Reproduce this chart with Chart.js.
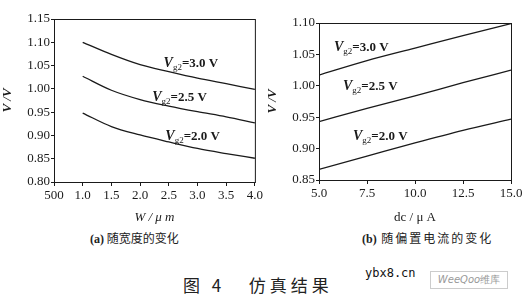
<!DOCTYPE html>
<html>
<head>
<meta charset="utf-8">
<script src="https://cdn.jsdelivr.net/npm/chart.js@4"></script>
<style>
  body { margin: 0; background: #fff; width: 525px; height: 305px; position: relative; overflow: hidden; }
  .box { position: absolute; top: 0; height: 225px; }
  #boxA { left: 0; width: 265px; }
  #boxB { left: 265px; width: 260px; }
  .cap { position: absolute; font-family: "Noto Sans CJK SC", sans-serif; color: #222; white-space: nowrap; }
  .cap b { font-family: "Liberation Serif", serif; }
  #capA { left: 90px; top: 229px; font-size: 12px; }
  #capB { left: 362px; top: 229px; font-size: 12px; letter-spacing: 2px; }
  #capB b { letter-spacing: 0; }
  #fig { left: 183px; top: 272px; font-size: 17px; letter-spacing: 4px; }
  #wm { left: 365px; top: 266px; font-family: "DejaVu Sans Mono", monospace; font-size: 12px; color: #111; }
  #wq { left: 430px; top: 271px; width: 76px; height: 16px; border: 1px solid #ccc; font-family: "DejaVu Sans", sans-serif; font-style: italic; font-size: 10px; color: #999; line-height: 16px; text-align: center; }
</style>
</head>
<body>
<div class="box" id="boxA"><canvas id="chartA"></canvas></div>
<div class="box" id="boxB"><canvas id="chartB"></canvas></div>
<div class="cap" id="capA"><b>(a)</b> 随宽度的变化</div>
<div class="cap" id="capB"><b>(b)</b> 随偏置电流的变化</div>
<div class="cap" id="fig">图 4&nbsp;&nbsp; 仿真结果</div>
<div class="cap" id="wm">ybx8.cn</div>
<div class="cap" id="wq">WeeQoo<span style="font-style:normal">维库</span></div>
<script>
// --- data ---
const widthUm = [1.0, 1.5, 2.0, 2.5, 3.0, 3.5, 4.0];
const vg30ByWidth = [1.100, 1.074, 1.052, 1.037, 1.023, 1.011, 0.999];
const vg25ByWidth = [1.027, 0.997, 0.977, 0.963, 0.951, 0.940, 0.927];
const vg20ByWidth = [0.948, 0.919, 0.901, 0.886, 0.872, 0.861, 0.851];

const biasUa = [5.0, 7.5, 10.0, 12.5, 15.0];
const vg30ByBias = [1.017, 1.040, 1.060, 1.080, 1.099];
const vg25ByBias = [0.943, 0.964, 0.984, 1.005, 1.025];
const vg20ByBias = [0.867, 0.888, 0.909, 0.929, 0.947];

const widthTickLabels = ['500', '1.0', '1.5', '2.0', '2.5', '3.0', '3.5', '4.0'];
const biasTickLabels = ['5.0', '7.5', '10.0', '12.5', '15.0'];
const seriesNames = ['3.0', '2.5', '2.0'];

const ink = '#1a1a1a';
const serif = '"Liberation Serif", "Times New Roman", serif';

// frame around the plot area (closed box)
const framePlugin = {
    id: 'frame',
    afterDraw: (chart) => {
        const a = chart.chartArea;
        const ctx = chart.ctx;
        ctx.save();
        ctx.strokeStyle = ink;
        ctx.lineWidth = 1;
        ctx.strokeRect(a.left + 0.5, a.top + 0.5, a.right - a.left, a.bottom - a.top);
        ctx.restore();
    }
};

// "V_g2=x.x V" curve labels, anchored in data units
const curveLabelPlugin = {
    id: 'curveLabels',
    afterDatasetsDraw: (chart, args, opts) => {
        const ctx = chart.ctx;
        const xs = chart.scales.x, ys = chart.scales.y;
        ctx.save();
        ctx.fillStyle = ink;
        ctx.textBaseline = 'alphabetic';
        opts.spots.forEach((s, i) => {
            let x = xs.getPixelForValue(s[0]);
            const y = ys.getPixelForValue(s[1]);
            ctx.font = 'italic bold 14px ' + serif;
            ctx.fillText('V', x, y);
            x += ctx.measureText('V').width;
            ctx.font = '9px ' + serif;
            ctx.fillText('g2', x, y + 3);
            x += ctx.measureText('g2').width;
            ctx.font = 'bold 13px ' + serif;
            ctx.fillText('=' + seriesNames[i] + ' V', x, y);
        });
        ctx.restore();
    }
};

function makeLine(xVals, yVals) {
    return {
        data: xVals.map((x, i) => ({ x: x, y: yVals[i] })),
        borderColor: ink,
        borderWidth: 1.3,
        pointRadius: 0,
        tension: 0.4,
        cubicInterpolationMode: 'monotone',
        fill: false
    };
}

function makeOptions(cfg) {
    return {
        responsive: true,
        maintainAspectRatio: false,
        animation: false,
        layout: { padding: cfg.padding },
        plugins: {
            legend: { display: false },
            tooltip: { enabled: false },
            curveLabels: { spots: cfg.spots }
        },
        scales: {
            x: {
                type: 'linear',
                min: cfg.xMin, max: cfg.xMax,
                afterFit: (scale) => { scale.height = cfg.xAxisHeight; },
                ticks: {
                    stepSize: cfg.xStep,
                    color: ink,
                    font: { family: serif, size: 13 },
                    padding: 2,
                    maxRotation: 0,
                    autoSkip: false,
                    callback: (v, i) => cfg.xLabels[i]
                },
                grid: { drawOnChartArea: false, drawTicks: true, tickLength: 4, color: ink },
                border: { color: ink },
                title: {
                    display: true, text: cfg.xTitle, color: ink,
                    font: { family: serif, size: 13, style: cfg.xTitleStyle },
                    padding: { top: 4, bottom: 0 }
                }
            },
            y: {
                min: cfg.yMin, max: cfg.yMax,
                afterFit: (scale) => { scale.width = cfg.yAxisWidth; },
                ticks: {
                    stepSize: 0.05,
                    color: ink,
                    font: { family: serif, size: 13 },
                    padding: 1,
                    callback: (v) => v.toFixed(2)
                },
                grid: { drawOnChartArea: false, drawTicks: true, tickLength: 3, color: ink },
                border: { color: ink },
                title: {
                    display: true, text: 'V /V', color: ink,
                    font: { family: serif, size: 13, style: 'italic', weight: 'bold' },
                    padding: { top: 0, bottom: 0 }
                }
            }
        }
    };
}

new Chart(document.getElementById('chartA'), {
    type: 'line',
    data: { datasets: [
        makeLine(widthUm, vg30ByWidth),
        makeLine(widthUm, vg25ByWidth),
        makeLine(widthUm, vg20ByWidth)
    ] },
    options: makeOptions({
        padding: { top: 19, right: 10, left: 0, bottom: 0 },
        xMin: 0.5, xMax: 4.0, xStep: 0.5, xLabels: widthTickLabels,
        yMin: 0.80, yMax: 1.15,
        xAxisHeight: 43, yAxisWidth: 54,
        xTitle: 'W / μ m', xTitleStyle: 'italic',
        spots: [[2.41, 1.046], [2.21, 0.973], [2.44, 0.891]]
    }),
    plugins: [framePlugin, curveLabelPlugin]
});

new Chart(document.getElementById('chartB'), {
    type: 'line',
    data: { datasets: [
        makeLine(biasUa, vg30ByBias),
        makeLine(biasUa, vg25ByBias),
        makeLine(biasUa, vg20ByBias)
    ] },
    options: makeOptions({
        padding: { top: 23, right: 14, left: 0, bottom: 0 },
        xMin: 5.0, xMax: 15.0, xStep: 2.5, xLabels: biasTickLabels,
        yMin: 0.85, yMax: 1.10,
        xAxisHeight: 45, yAxisWidth: 54,
        xTitle: 'dc / μ A', xTitleStyle: 'normal',
        spots: [[5.78, 1.055], [6.25, 0.993], [6.77, 0.914]]
    }),
    plugins: [framePlugin, curveLabelPlugin]
});
</script>
</body>
</html>
